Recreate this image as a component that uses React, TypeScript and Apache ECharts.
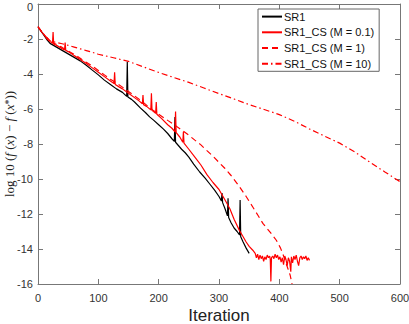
import React, { useEffect, useRef } from "react";
import * as echarts from "echarts";

const seriesNames = ["SR1", "SR1_CS (M = 0.1)", "SR1_CS (M = 1)", "SR1_CS (M = 10)"];
const xTicks = [0, 100, 200, 300, 400, 500, 600];
const yTicks = [-16, -14, -12, -10, -8, -6, -4, -2, 0];

const sr1: [number, number][] = [
  [0, -1.3], [5, -1.55], [10, -1.8], [15, -2.05], [20, -2.25], [30, -2.45], [40, -2.65], [50, -2.85],
  [60, -3.05], [70, -3.25], [80, -3.5], [90, -3.78], [100, -4.05], [110, -4.35], [120, -4.6], [130, -4.85],
  [140, -5.05], [147, -5.28], [148, -3.3], [149, -5.32], [155, -5.45], [160, -5.6], [170, -5.95], [178, -6.2],
  [185, -6.45], [192, -6.65], [200, -6.9], [208, -7.15], [215, -7.4], [222, -7.7], [226, -7.85], [227, -6.46],
  [228, -7.9], [233, -8.1], [238, -8.3], [244, -8.5], [250, -8.75], [258, -9.15], [268, -9.6], [277, -9.95],
  [285, -10.3], [293, -10.65], [300, -11.0], [304, -11.25], [305, -10.8], [306, -11.35], [310, -11.7],
  [314, -12.1], [315, -11.1], [316, -12.2], [320, -12.5], [325, -12.8], [330, -13.0], [334, -13.2],
  [335, -11.2], [336, -13.3], [340, -13.6], [345, -13.95], [350, -14.25],
];

const cs01: [number, number][] = [
  [0, -1.3], [5, -1.55], [10, -1.75], [15, -2.0], [20, -2.15], [24, -2.25], [25, -1.6], [26, -2.3],
  [30, -2.35], [40, -2.55], [44, -2.62], [45, -2.2], [46, -2.65], [50, -2.72], [60, -2.95], [70, -3.17],
  [80, -3.4], [90, -3.65], [100, -3.9], [110, -4.15], [120, -4.4], [126, -4.55], [127, -3.9], [128, -4.6],
  [135, -4.75], [140, -4.85], [150, -5.1], [160, -5.35], [168, -5.55], [173, -5.7], [174, -5.2], [175, -5.75],
  [180, -5.85], [187, -6.05], [188, -5.1], [189, -6.08], [195, -6.25], [196, -5.6], [197, -6.3], [205, -6.55],
  [215, -6.9], [222, -7.1], [227, -7.3], [228, -6.15], [229, -7.35], [235, -7.6], [240, -7.9], [241, -7.3],
  [242, -7.95], [250, -8.3], [260, -8.75], [270, -9.2], [280, -9.75], [290, -10.2], [300, -10.6],
  [310, -11.2], [318, -11.7], [325, -12.3], [334, -12.95], [340, -13.3], [345, -13.6], [350, -13.85],
  [356, -14.07], [360, -14.25], [362, -14.5], [364, -14.3], [366, -14.6], [368, -14.35], [370, -14.55],
  [372, -14.4], [374, -14.7], [376, -14.45], [378, -14.6], [380, -14.35], [382, -14.5], [384, -14.4],
  [385, -14.6], [386, -15.85], [387, -14.5], [389, -14.4], [391, -14.55], [393, -14.3], [395, -14.5],
  [397, -14.35], [399, -14.6], [401, -14.45], [403, -14.75], [405, -14.5], [407, -14.9], [409, -14.4],
  [411, -14.6], [413, -14.95], [415, -14.5], [417, -14.7], [419, -15.3], [420, -14.45], [422, -14.8],
  [424, -14.4], [426, -14.6], [428, -14.35], [430, -14.7], [432, -14.95], [434, -14.5], [436, -14.4],
  [438, -14.6], [440, -14.45], [442, -14.55], [444, -14.4], [446, -14.65], [448, -14.5], [450, -14.65],
];

const cs1: [number, number][] = [
  [0, -1.3], [10, -1.75], [20, -2.12], [30, -2.3], [40, -2.48], [50, -2.68], [60, -2.88], [70, -3.1],
  [80, -3.33], [90, -3.55], [100, -3.8], [110, -4.05], [120, -4.3], [130, -4.52], [140, -4.75], [150, -5.0],
  [160, -5.25], [170, -5.5], [180, -5.78], [190, -6.05], [200, -6.3], [215, -6.65], [228, -6.95],
  [240, -7.25], [250, -7.5], [260, -7.78], [270, -8.05], [280, -8.38], [290, -8.7], [300, -9.05],
  [310, -9.4], [320, -9.8], [334, -10.45], [345, -11.0], [356, -11.6], [365, -12.1], [373, -12.55],
  [385, -13.05], [395, -13.5], [402, -13.95], [406, -14.3], [410, -14.7], [414, -15.1], [418, -15.5],
  [421, -16.0],
];

const cs10: [number, number][] = [
  [0, -1.3], [10, -1.75], [20, -2.1], [30, -2.2], [40, -2.27], [50, -2.36], [60, -2.46], [70, -2.56],
  [80, -2.66], [90, -2.76], [100, -2.87], [125, -3.07], [150, -3.28], [175, -3.6], [200, -3.91],
  [225, -4.2], [250, -4.48], [275, -4.8], [300, -5.12], [325, -5.43], [350, -5.75], [375, -6.03],
  [400, -6.32], [425, -6.7], [450, -7.14], [475, -7.55], [500, -7.95], [525, -8.45], [550, -9.04],
  [575, -9.6], [600, -10.15],
];

const AXIS_COLOR = "#777";
const LABEL_COLOR = "#333";
const SANS = "Liberation Sans";
const SERIF = "Liberation Serif";

export default function App() {
  const ref = useRef<HTMLDivElement>(null);
  useEffect(() => {
    if (!ref.current) return;
    const chart = echarts.init(ref.current, undefined, { renderer: "svg" });
    const xMin = xTicks[0];
    const xMax = xTicks[xTicks.length - 1];
    const xInt = xTicks[1] - xTicks[0];
    const yMin = yTicks[0];
    const yMax = yTicks[yTicks.length - 1];
    const yInt = yTicks[1] - yTicks[0];
    const axisCommon = {
      axisLine: { show: true, onZero: false, lineStyle: { color: AXIS_COLOR, width: 1 } },
      axisTick: { show: true, inside: true, length: 5, lineStyle: { color: AXIS_COLOR } },
      splitLine: { show: false },
    };
    const mk = (name: string, data: [number, number][], color: string, type: any) => ({
      name,
      type: "line",
      data,
      symbol: "none",
      showSymbol: false,
      lineStyle: { color, width: 1.2, type },
      itemStyle: { color },
      z: 2,
    });
    chart.setOption({
      animation: false,
      backgroundColor: "#fff",
      grid: { left: 38, right: 9, top: 4, bottom: 40, containLabel: false, outerBoundsMode: "none" },
      legend: {
        orient: "vertical",
        left: 258,
        top: 9,
        itemWidth: 20,
        itemHeight: 14,
        itemGap: 4.5,
        padding: [2, 5, 2, 3],
        backgroundColor: "#fff",
        borderColor: "#666",
        borderWidth: 1,
        itemStyle: { opacity: 0 },
        textStyle: { fontFamily: SANS, fontSize: 11, color: "#111", padding: [0, 0, 0, -3] },
        data: seriesNames,
      },
      xAxis: [
        {
          type: "value",
          min: xMin,
          max: xMax,
          interval: xInt,
          ...axisCommon,
          axisLabel: { color: LABEL_COLOR, fontFamily: SANS, fontSize: 11, margin: 8 },
          name: "Iteration",
          nameLocation: "middle",
          nameGap: 23,
          nameMoveOverlap: false,
          nameTextStyle: { fontFamily: SANS, fontSize: 17, color: "#222" },
        },
        {
          type: "value",
          position: "top",
          min: xMin,
          max: xMax,
          interval: xInt,
          ...axisCommon,
          axisLabel: { show: false },
        },
      ],
      yAxis: [
        {
          type: "value",
          min: yMin,
          max: yMax,
          interval: yInt,
          ...axisCommon,
          axisLabel: {
            color: LABEL_COLOR,
            fontFamily: SANS,
            fontSize: 11,
            margin: 5,
            formatter: (v: number) => (v === yMax ? "{t|" + v + "}" : String(v)),
            rich: {
              t: { color: LABEL_COLOR, fontFamily: SANS, fontSize: 11, padding: [5, 0, 0, 0] },
            },
          },
          name: "{n|log 10 (}{i|f}{n| (}{i|x}{n|) − }{i|f}{n| (}{i|x}{s|*}{n|))}",
          nameLocation: "middle",
          nameGap: 22,
          nameMoveOverlap: false,
          nameTextStyle: {
            fontFamily: SERIF,
            fontSize: 13,
            color: "#222",
            rich: {
              n: { fontFamily: SERIF, fontSize: 13, color: "#222" },
              i: { fontFamily: SERIF, fontSize: 13, fontStyle: "italic", color: "#222" },
              s: { fontFamily: SERIF, fontSize: 10, color: "#222", verticalAlign: "top" },
            },
          },
        },
        {
          type: "value",
          position: "right",
          min: yMin,
          max: yMax,
          interval: yInt,
          ...axisCommon,
          axisLabel: { show: false },
        },
      ],
      series: [
        mk(seriesNames[0], sr1, "#000000", "solid"),
        mk(seriesNames[1], cs01, "#ff0000", "solid"),
        mk(seriesNames[2], cs1, "#ff0000", [6, 4]),
        mk(seriesNames[3], cs10, "#ff0000", [6, 3, 1.5, 3]),
      ],
    });
    return () => chart.dispose();
  }, []);
  return <div ref={ref} style={{ width: 409, height: 324, position: "absolute", left: 0, top: 0 }} />;
}
